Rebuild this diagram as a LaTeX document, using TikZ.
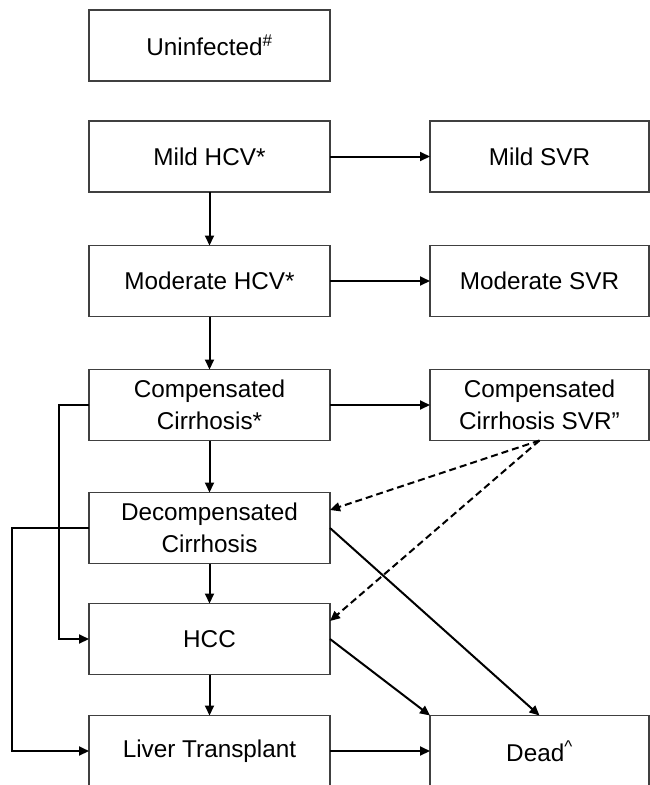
\documentclass[tikz,border=0pt]{standalone}
\usepackage{fontspec}
\setmainfont{Liberation Sans}
\usetikzlibrary{arrows.meta}
\tikzset{
  stbox/.style={draw=black!75, line width=1.2pt, minimum width=241pt,
    minimum height=71pt, inner sep=0pt, outer sep=0pt, align=center,
    font=\fontsize{24.3}{32.5}\selectfont},
  svrbox/.style={stbox, minimum width=219pt},
  flow/.style={line width=2pt, -{Triangle[length=10pt,width=9pt]}},
  svrflow/.style={flow, dash pattern=on 7pt off 4pt}
}
\begin{document}
\begin{tikzpicture}[x=1pt,y=-1pt]
      \clip (0,0) rectangle (650,785);
      \draw
        (209.5,45.5) node[stbox] (uninf){Uninfected\textsuperscript{\#}}
        (209.5,156.5) node[stbox] (mild){Mild HCV*}
        (539.5,156.5) node[svrbox] (mildsvr){Mild SVR}
        (209.5,281) node[stbox] (mod){Moderate HCV*}
        (539.5,281) node[svrbox] (modsvr){Moderate SVR}
        (209.5,405) node[stbox] (comp){Compensated\\Cirrhosis*}
        (539.5,405) node[svrbox] (compsvr){Compensated\\Cirrhosis SVR''}
        (209.5,528) node[stbox] (decomp){Decompensated\\Cirrhosis}
        (209.5,639) node[stbox] (hcc){HCC}
        (209.5,751) node[stbox] (lt){Liver Transplant}
        (539.5,751) node[svrbox] (dead){Dead\textsuperscript{\textasciicircum}};
      \begin{scope}[flow]
        \draw (mild) to (mildsvr);
        \draw (mod) to (modsvr);
        \draw (comp) to (compsvr);
        \draw (mild) to (mod);
        \draw (mod) to (comp);
        \draw (comp) to (decomp);
        \draw (decomp) to (hcc);
        \draw (hcc) to (lt);
        \draw (lt) to (dead);
        \draw (comp.west) -- ++(-30,0) |- (hcc.west);
        \draw (decomp.west) -- ++(-77,0) |- (lt.west);
        \draw (decomp.east) to (dead.north);
        \draw (hcc.east) to (dead.north west);
      \end{scope}
      \begin{scope}[svrflow]
        \draw (compsvr.south) to ([yshift=18pt]decomp.east);
        \draw (compsvr.south) to ([yshift=18pt]hcc.east);
      \end{scope}
    \end{tikzpicture}
\end{document}
